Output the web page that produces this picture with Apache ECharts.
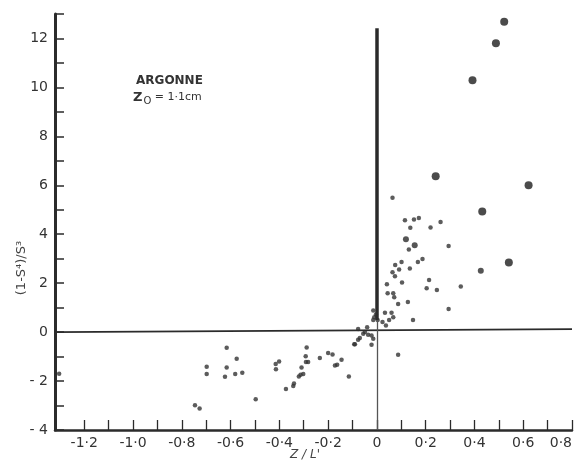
<!DOCTYPE html>
<html>
<head>
<meta charset="utf-8">
<script src="https://cdn.jsdelivr.net/npm/echarts@6.0.0/dist/echarts.min.js"></script>
<style>
  html, body { margin: 0; padding: 0; background: #fff; }
  #main { width: 578px; height: 462px; }
</style>
</head>
<body>
<div id="main"></div>
<script>
// ---- data (x = Z/L', y = (1-S^4)/S^3) ----
var bigPoints = [
  [0.522, 12.68], [0.488, 11.80], [0.392, 10.29], [0.241, 6.37],
  [0.622, 6.00], [0.432, 4.93], [0.541, 2.85]
]
var midPoints = [
  [0.426, 2.51], [0.119, 3.80], [0.155, 3.55]
]
var smallPoints = [
  // positive quadrant
  [0.064, 5.49], [0.115, 4.57], [0.152, 4.60], [0.172, 4.66], [0.261, 4.50],
  [0.137, 4.27], [0.220, 4.28], [0.294, 3.52], [0.131, 3.38], [0.168, 2.87],
  [0.187, 2.99], [0.101, 2.87], [0.075, 2.74], [0.091, 2.56], [0.135, 2.60],
  [0.064, 2.45], [0.074, 2.28], [0.103, 2.03], [0.214, 2.13], [0.041, 1.96],
  [0.204, 1.79], [0.246, 1.72], [0.344, 1.86], [0.044, 1.59], [0.067, 1.59],
  [0.071, 1.42], [0.087, 1.15], [0.127, 1.23], [0.294, 0.94], [0.148, 0.50],
  [0.087, -0.92],
  // cluster round the origin
  [-0.015, 0.88], [-0.004, 0.72], [-0.011, 0.61], [-0.015, 0.50], [0.003, 0.50],
  [0.033, 0.79], [0.060, 0.79], [0.067, 0.61], [0.050, 0.50], [0.023, 0.41],
  [0.037, 0.27], [-0.077, 0.13], [-0.049, 0.00], [-0.040, 0.20], [-0.056, -0.07],
  [-0.036, -0.11], [-0.022, -0.14], [-0.015, -0.27], [-0.070, -0.24], [-0.093, -0.50],
  [-0.022, -0.52], [-0.077, -0.31],
  // negative quadrant
  [-1.303, -1.70], [-0.698, -1.42], [-0.698, -1.71], [-0.616, -0.64], [-0.616, -1.45],
  [-0.623, -1.82], [-0.575, -1.09], [-0.581, -1.71], [-0.552, -1.66], [-0.746, -2.99],
  [-0.727, -3.12], [-0.497, -2.74], [-0.415, -1.30], [-0.414, -1.52], [-0.401, -1.20],
  [-0.373, -2.32], [-0.343, -2.20], [-0.340, -2.10], [-0.320, -1.81], [-0.313, -1.74],
  [-0.302, -1.71], [-0.309, -1.45], [-0.291, -1.22], [-0.282, -1.22], [-0.292, -0.99],
  [-0.288, -0.63], [-0.234, -1.06], [-0.200, -0.85], [-0.182, -0.91], [-0.172, -1.36],
  [-0.163, -1.33], [-0.145, -1.13], [-0.115, -1.81], [-0.090, -0.50]
]

var xTickValues = [-1.2, -1.1, -1.0, -0.9, -0.8, -0.7, -0.6, -0.5, -0.4, -0.3, -0.2, -0.1,
  0, 0.1, 0.2, 0.3, 0.4, 0.5, 0.6, 0.7, 0.8]
var xLabelValues = [-1.2, -1.0, -0.8, -0.6, -0.4, -0.2, 0, 0.2, 0.4, 0.6, 0.8]
var xLabelText = ['-1·2', '-1·0', '-0·8', '-0·6', '-0·4', '-0·2', '0', '0·2', '0·4', '0·6', '0·8']
var yLabelValues = [-4, -2, 0, 2, 4, 6, 8, 10, 12]
var yLabelText = ['- 4', '- 2', '0', '2', '4', '6', '8', '10', '12']

var ink = '#2b2b2b'
var font = 'DejaVu Sans'

var chart = echarts.init(document.getElementById('main'), null, {renderer: 'canvas'})

var option = {
  backgroundColor: '#fff',
  animation: false,
  grid: {
    left: 55, right: 6, top: 14, bottom: 32,
    containLabel: false,
    outerBoundsMode: 'none'
  },
  xAxis: {
    type: 'value',
    min: -1.32,
    max: 0.8,
    axisLine: {show: true, onZero: false, lineStyle: {color: ink, width: 2.5}},
    axisTick: {
      show: true, inside: true, length: 10,
      customValues: xTickValues,
      lineStyle: {color: ink, width: 1.3}
    },
    axisLabel: {
      customValues: xLabelValues,
      alignMaxLabel: 'right',
      margin: 6,
      color: '#333',
      fontFamily: font,
      fontSize: 14,
      formatter: function (v) {
        var i = xLabelValues.findIndex(function (a) { return Math.abs(a - v) < 1e-6 })
        return i >= 0 ? xLabelText[i] : ''
      }
    },
    splitLine: {show: false}
  },
  yAxis: {
    type: 'value',
    min: -4,
    max: 13,
    interval: 1,
    axisLine: {show: true, onZero: false, lineStyle: {color: ink, width: 3}},
    axisTick: {show: true, inside: true, length: 9, lineStyle: {color: ink, width: 1.5}},
    axisLabel: {
      customValues: yLabelValues,
      margin: 7,
      color: '#333',
      fontFamily: font,
      fontSize: 14,
      formatter: function (v) {
        var i = yLabelValues.indexOf(v)
        return i >= 0 ? yLabelText[i] : ''
      }
    },
    splitLine: {show: false}
  },
  series: [
    {
      name: 'small',
      type: 'scatter',
      symbolSize: 4.5,
      itemStyle: {color: '#333'},
      data: smallPoints,
      markLine: {
        silent: true,
        symbol: 'none',
        label: {show: false},
        data: [
          [{coord: [-1.32, 0], lineStyle: {color: ink, width: 1.8, type: 'solid'}},
           {coord: [0.8, 0.12]}],
          [{coord: [0, 12.42], lineStyle: {color: ink, width: 3.5, type: 'solid'}},
           {coord: [0, 0.5]}],
          [{coord: [0, 0.5], lineStyle: {color: '#555', width: 1.3, type: 'solid'}},
           {coord: [0, -4]}]
        ]
      }
    },
    {
      name: 'mid',
      type: 'scatter',
      symbolSize: 6,
      itemStyle: {color: ink},
      data: midPoints
    },
    {
      name: 'big',
      type: 'scatter',
      symbolSize: 8,
      itemStyle: {color: '#1e1e1e'},
      data: bigPoints
    }
  ],
  graphic: [
    {
      type: 'text',
      left: 136, top: 75,
      style: {text: 'ARGONNE', fill: '#333', font: 'bold 12px "DejaVu Sans"'}
    },
    {
      type: 'text',
      left: 133, top: 91,
      style: {
        text: '{a|Z}{b|O}{c| = 1·1cm}',
        rich: {
          a: {fontFamily: font, fontSize: 13, fontWeight: 'bold', fill: '#333'},
          b: {fontFamily: font, fontSize: 10, fill: '#333', verticalAlign: 'bottom', padding: [8, 0, 0, 1]},
          c: {fontFamily: font, fontSize: 11, fill: '#333'}
        }
      }
    },
    {
      type: 'text',
      x: 22, y: 268,
      rotation: Math.PI / 2,
      style: {
        text: '(1-S⁴)/S³',
        fill: '#444',
        font: '13px "DejaVu Sans"',
        align: 'center',
        verticalAlign: 'middle'
      }
    },
    {
      type: 'text',
      x: 305, y: 455,
      style: {
        text: "Z / L'",
        fill: '#444',
        font: 'italic 12px "DejaVu Sans"',
        align: 'center',
        verticalAlign: 'middle'
      }
    }
  ]
}

chart.setOption(option)
</script>
</body>
</html>
